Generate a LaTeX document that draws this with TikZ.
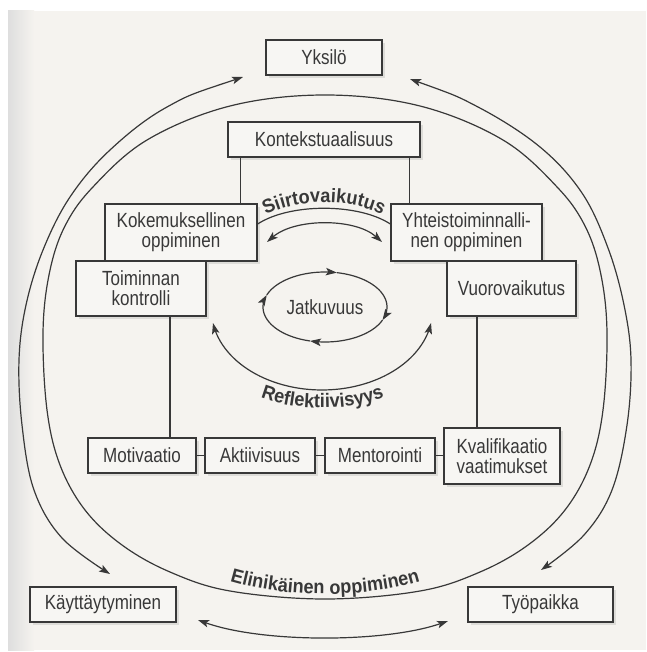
\documentclass[tikz,border=0pt]{standalone}
\usepackage{fontspec}
\setmainfont{Liberation Sans}[FakeStretch=0.83]
\newfontfamily\lblfont{Liberation Sans}[FakeStretch=0.93]
\usetikzlibrary{arrows.meta,shadows,decorations.text,calc}
\definecolor{bg}{HTML}{F5F3EF}
\definecolor{boxbg}{HTML}{F7F6F3}
\definecolor{ink}{HTML}{383838}
\begin{document}
\begin{tikzpicture}[x=1pt,y=-1pt,
  box/.style={draw=ink, line width=1.3pt, fill=boxbg, text=ink,
    font=\fontsize{20.5}{20}\selectfont, align=center, inner sep=0pt,
    drop shadow={shadow xshift=2.5pt, shadow yshift=-3pt, opacity=0.2}},
  conn/.style={draw=ink, line width=1.1pt},
  tip/.tip={Stealth[length=11pt,width=7.5pt,inset=2.5pt]},
  arr/.style={draw=ink, line width=1.2pt},
  lbl/.style={decorate, decoration={text along path, text align=center,
    text={|\lblfont\bfseries\fontsize{19.5}{19}\selectfont\color{ink}|#1}}}
]
\useasboundingbox (0,0) rectangle (646,652);
\fill[white] (0,0) rectangle (646,652);
\fill[bg] (8,11) rectangle (646,650);
\shade[left color=black!13, right color=bg] (8,11) rectangle (34,650);

% outer arcs
\coordinate (oa1) at (243,77);
\coordinate (oa2) at (110,574);
\coordinate (ob1) at (410,79);
\coordinate (ob2) at (541,570);
\draw[arr, tip-tip] plot[smooth, tension=0.6] coordinates {(oa1) (167,107) (110,150) (70,197) (43,250) (26,305) (19,360) (22,425) (34,490) (62,538) (oa2)};
\draw[arr, tip-tip] plot[smooth, tension=0.6] coordinates {(ob1) (478,107) (540,147) (582,193) (608,248) (624,305) (631,360) (627,425) (612,490) (584,535) (ob2)};

% inner closed curve
\draw[arr] plot[smooth cycle, tension=0.6] coordinates {(325,95) (420,106) (503,140) (558,188) (586,228) (601,275) (607,333) (603,410) (590,465) (565,510) (528,545) (480,572) (420,591) (325,599) (230,591) (170,572) (122,545) (85,510) (60,465) (47,410) (43,333) (49,275) (64,228) (92,188) (147,140) (230,106)};
\path[lbl={Elinikäinen oppiminen}] (195,567) .. controls (258,603) and (392,603) .. (455,567);

% bottom arrow
\coordinate (bl) at (198,620);
\coordinate (br) at (448,621);
\draw[arr, tip-tip] (bl) .. controls (262,643) and (384,643) .. (br);

% boxes
\node[box, minimum width=116pt, minimum height=35pt] (yks) at (324,57.5) {Yksilö};
\node[box, minimum width=192pt, minimum height=35pt] (kont) at (324,139.5) {Kontekstuaalisuus};
\node[box, minimum width=152pt, minimum height=57pt] (kok) at (181,232.5) {Kokemuksellinen\\oppiminen};
\node[box, minimum width=151pt, minimum height=57pt] (yht) at (466.5,232.5) {Yhteistoiminnalli-\\nen oppiminen};
\node[box, minimum width=130pt, minimum height=55pt] (toim) at (141,288.5) {Toiminnan\\kontrolli};
\node[box, minimum width=129pt, minimum height=55pt] (vuo) at (511.5,288.5) {Vuorovaikutus};
\node[box, minimum width=108pt, minimum height=35pt] (mot) at (142,455.5) {Motivaatio};
\node[box, minimum width=110pt, minimum height=35pt] (akt) at (260,455.5) {Aktiivisuus};
\node[box, minimum width=110pt, minimum height=35pt] (men) at (380,455.5) {Mentorointi};
\node[box, minimum width=116pt, minimum height=56pt] (kva) at (502,456) {Kvalifikaatio\\vaatimukset};
\node[box, minimum width=146pt, minimum height=35pt] (kay) at (103,604.5) {Käyttäytyminen};
\node[box, minimum width=145pt, minimum height=35pt] (tyo) at (540.5,604.5) {Työpaikka};

% connectors
\coordinate (c1) at ([xshift=13pt]kont.south west);
\draw[conn] (c1) -- (c1 |- kok.north);
\coordinate (c2) at ([xshift=-11pt]kont.south east);
\draw[conn] (c2) -- (c2 |- yht.north);
\coordinate (c3) at ([xshift=28pt]mot.north);
\draw[conn] (c3) -- (c3 |- toim.south);
\coordinate (c4) at ([xshift=-25pt]kva.north);
\draw[conn] (c4) -- (c4 |- vuo.south);
\draw[conn] (mot.east) -- (akt.west);
\draw[conn] (akt.east) -- (men.west);
\draw[conn] (men.east) -- (men.east -| kva.west);

% Siirtovaikutus
\draw[arr] (kok.east |- 0,224) .. controls (290,203) and (358,203) .. (yht.west |- 0,224);
\path[lbl={Siirtovaikutus}] (260,219) .. controls (290,197) and (358,197) .. (388,219);
\coordinate (s1) at (267,242);
\coordinate (s2) at (382,242);
\draw[arr, tip-tip] (s1) .. controls (295,218) and (355,218) .. (s2);

% Jatkuvuus loop
\node[text=ink, font=\fontsize{20.5}{20}\selectfont, inner sep=0pt] (jat) at (325,307) {Jatkuvuus};
\draw[arr, -tip] plot[domain=200:281, samples=30, variable=\t] ({325+62*cos(\t)}, {307+35*sin(\t)});
\draw[arr, -tip] plot[domain=281:382, samples=30, variable=\t] ({325+62*cos(\t)}, {307+35*sin(\t)});
\draw[arr, -tip] plot[domain=22:104, samples=30, variable=\t] ({325+62*cos(\t)}, {307+35*sin(\t)});
\draw[arr, -tip] plot[domain=104:200, samples=30, variable=\t] ({325+62*cos(\t)}, {307+35*sin(\t)});

% Reflektiivisyys
\draw[arr, tip-tip] plot[domain=9.35:170.65, samples=60, variable=\t] ({322+110.5*cos(\t)}, {310+80*sin(\t)});
\path[lbl={Reflektiivisyys}] (255,395) .. controls (290,412) and (355,412) .. (390,395);
\end{tikzpicture}
\end{document}
